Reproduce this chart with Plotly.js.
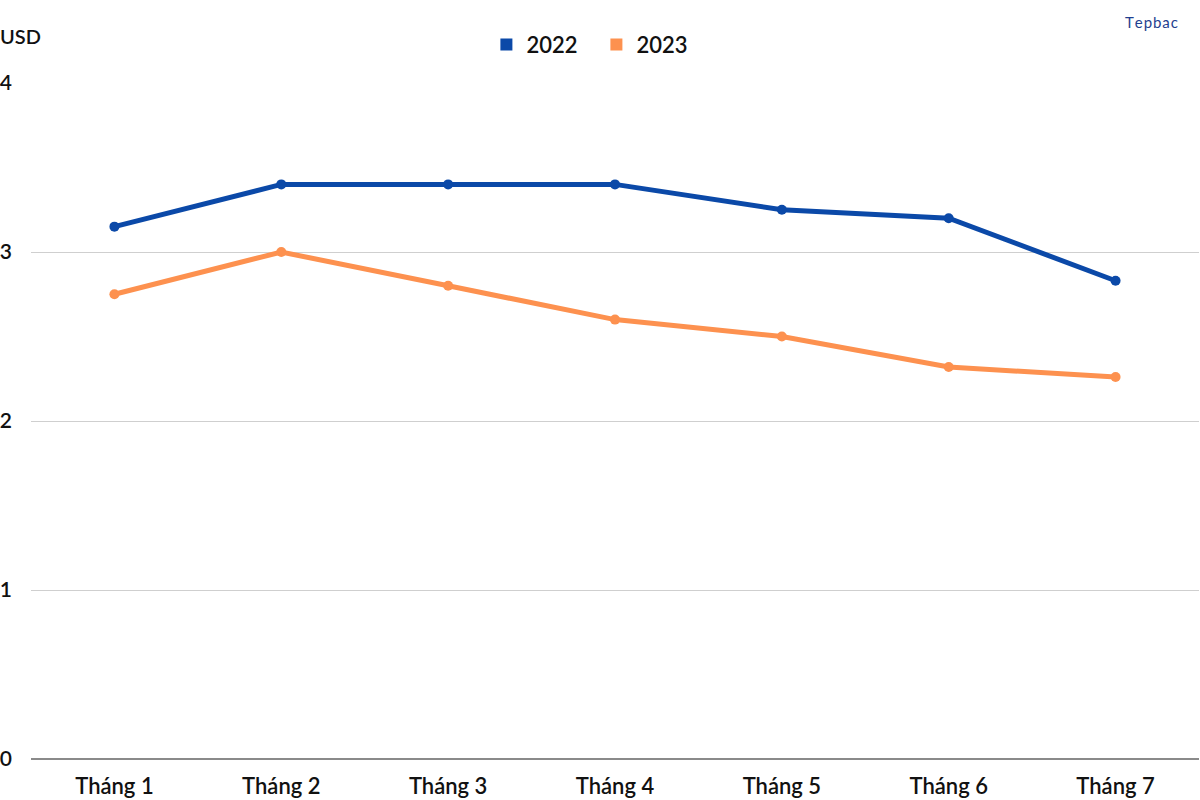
<!DOCTYPE html>
<html>
<head>
<meta charset="utf-8">
<script src="https://cdn.plot.ly/plotly-3.0.1.min.js"></script>
<style>html,body{margin:0;padding:0;background:#fff}#chart{width:1200px;height:800px}</style>
</head>
<body>
<div id="chart"></div>
<script>
const months = ["Tháng 1","Tháng 2","Tháng 3","Tháng 4","Tháng 5","Tháng 6","Tháng 7"];
const series2022 = [3.15, 3.40, 3.40, 3.40, 3.25, 3.20, 2.83];
const series2023 = [2.75, 3.00, 2.80, 2.60, 2.50, 2.32, 2.26];
const yTicks = [0, 1, 2, 3, 4];
const blue = "#0b49a8";
const orange = "#fd914f";
const fontFam = "Lato, 'Open Sans', sans-serif";

const traces = [
  {x: months, y: series2022, type: "scatter", mode: "lines+markers", name: "2022",
   line: {color: blue, width: 5}, marker: {color: blue, size: 10}, showlegend: false},
  {x: months, y: series2023, type: "scatter", mode: "lines+markers", name: "2023",
   line: {color: orange, width: 5}, marker: {color: orange, size: 10}, showlegend: false},
  {x: [null], y: [null], type: "scatter", mode: "markers", name: "2022",
   marker: {color: blue, size: 12, symbol: "square"}},
  {x: [null], y: [null], type: "scatter", mode: "markers", name: "2023",
   marker: {color: orange, size: 12, symbol: "square"}}
];

const layout = {
  width: 1200, height: 800,
  margin: {l: 31, r: 1, t: 83, b: 41},
  paper_bgcolor: "#fff", plot_bgcolor: "#fff",
  font: {family: fontFam, color: "#111", size: 20, weight: 600},
  showlegend: true,
  legend: {orientation: "h", xref: "container", yref: "container", x: 0.497, y: 0.944,
    xanchor: "center", yanchor: "middle", font: {size: 22, color: "#111", weight: 600},
    itemwidth: 30, entrywidth: 65, entrywidthmode: "pixels", tracegroupgap: 0},
  xaxis: {type: "category", range: [-0.5, 6.5], showgrid: false, zeroline: false,
    showline: false, ticks: "", ticklabelstandoff: 12,
    tickfont: {size: 22, color: "#111", weight: 600}, fixedrange: true},
  yaxis: {range: [0, 4], tickvals: yTicks, ticktext: yTicks.map(String),
    showgrid: true, gridcolor: "#cfcfcf", gridwidth: 1, zeroline: true,
    zerolinecolor: "#8a8a8a", zerolinewidth: 1.5, showline: false, ticks: "",
    ticklabelstandoff: 18, tickfont: {size: 21, color: "#111", weight: 600}, fixedrange: true},
  annotations: [
    {text: "USD", xref: "paper", yref: "paper", x: 0, xshift: -33, y: 1, yshift: 47,
     xanchor: "left", yanchor: "middle", showarrow: false,
     font: {size: 20, color: "#111", weight: 600}},
    {text: "T\u200Ae\u200Ap\u200Ab\u200Aa\u200Ac", xref: "paper", yref: "paper", x: 1, xshift: -19, y: 1, yshift: 61,
     xanchor: "right", yanchor: "middle", showarrow: false,
     font: {size: 15, color: "#1f3f8f", family: fontFam, weight: 400}}
  ]
};

Plotly.newPlot("chart", traces, layout, {displayModeBar: false, staticPlot: true});
</script>
</body>
</html>
